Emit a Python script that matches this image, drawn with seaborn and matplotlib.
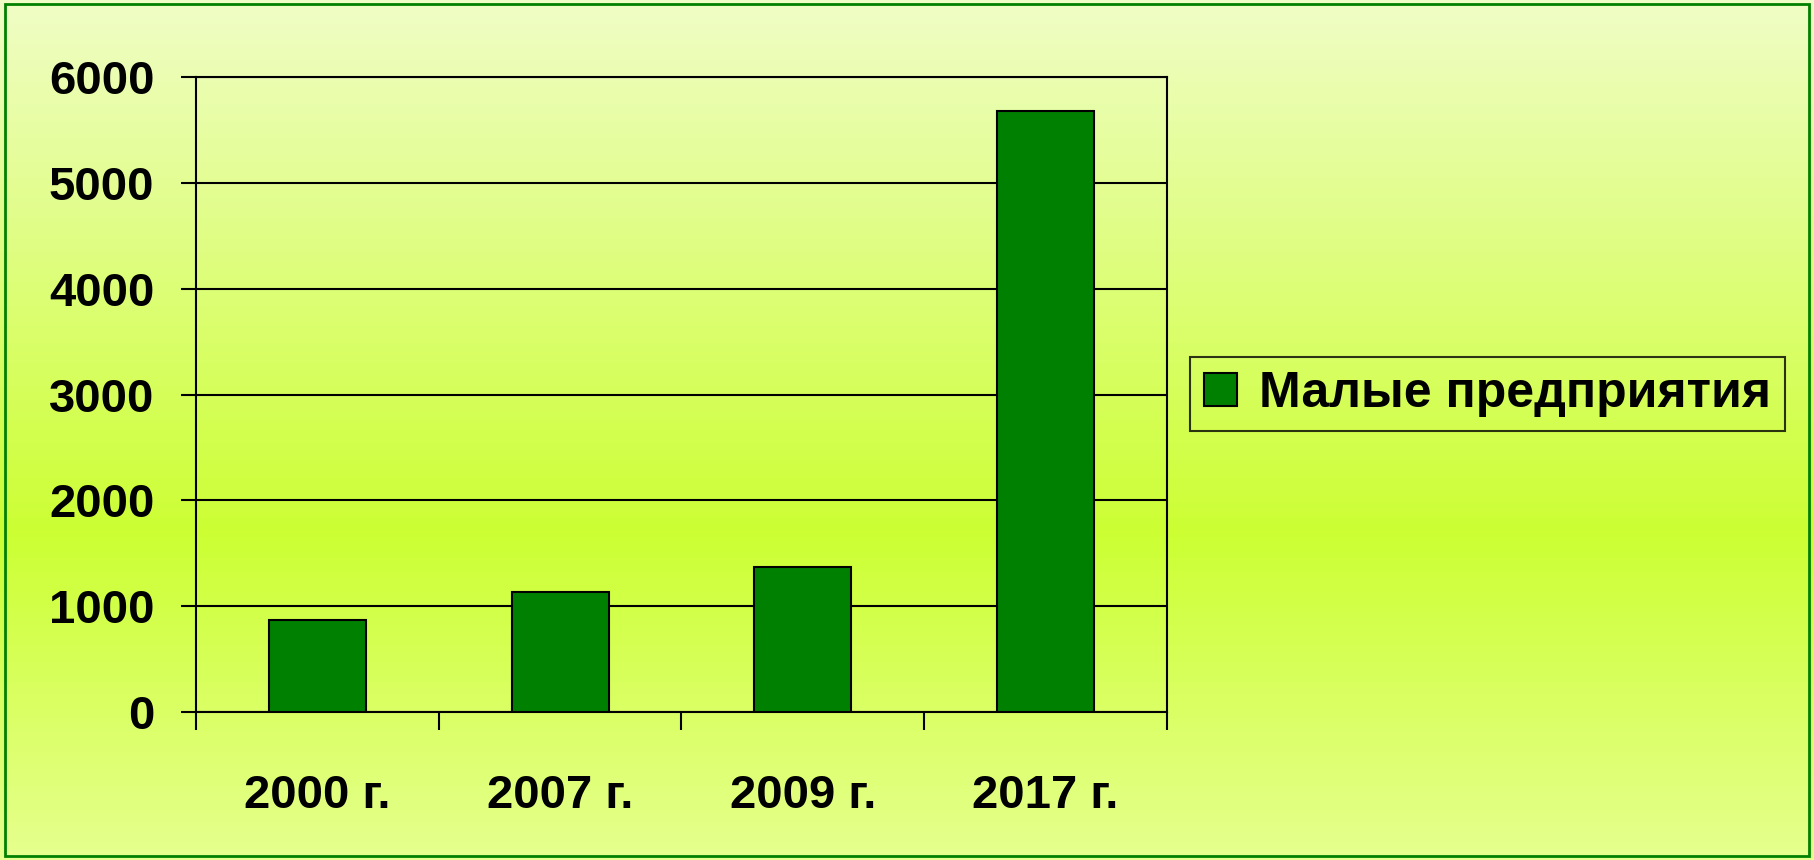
import numpy as np
import pandas as pd
import matplotlib
matplotlib.use('Agg')
import matplotlib.pyplot as plt
import seaborn as sns
from matplotlib.colors import LinearSegmentedColormap
from matplotlib.patches import Rectangle

# Data
years = ['2000 г.', '2007 г.', '2009 г.', '2017 г.']
small_firms = [868, 1132, 1368, 5680]
series_name = 'Малые предприятия'

df = pd.DataFrame({'year': years, 'value': small_firms})

plt.rcParams['font.family'] = ['Liberation Sans', 'DejaVu Sans']
plt.rcParams['font.weight'] = 'bold'

fig = plt.figure(figsize=(18.14, 8.6), dpi=100)

# Vertical gradient background
bg = fig.add_axes([0, 0, 1, 1], zorder=-10)
grad_cmap = LinearSegmentedColormap.from_list(
    'bg', [(0.0, '#f0fdc6'), (0.62, '#ccff33'), (1.0, '#e6ff8e')])
bg.imshow(np.linspace(0, 1, 256).reshape(-1, 1), aspect='auto', cmap=grad_cmap,
          extent=[0, 1, 0, 1], origin='upper')
bg.set_axis_off()
fig.patches.append(Rectangle((0.003, 0.005), 0.994, 0.99, transform=fig.transFigure,
                             fill=False, edgecolor='#008000', linewidth=2, zorder=5))

ax = fig.add_axes([196 / 1814, 1 - 712 / 860, (1167 - 196) / 1814, (712 - 77) / 860])
ax.patch.set_alpha(0)

sns.barplot(data=df, x='year', y='value', color='#008000', edgecolor='black',
            linewidth=1.5, width=0.4, saturation=1, ax=ax, zorder=3,
            label=series_name)
handles, labels = ax.get_legend_handles_labels()
if ax.get_legend() is not None:
    ax.get_legend().remove()

ax.set_ylim(0, 6000)
ax.set_yticks(range(0, 6001, 1000))
ax.set_xlim(-0.5, 3.5)
ax.yaxis.grid(True, color='black', linewidth=1.5, zorder=1)
ax.set_axisbelow(True)
ax.set_xlabel('')
ax.set_ylabel('')
for s in ax.spines.values():
    s.set_color('black')
    s.set_linewidth(1.5)

# category separators as ticks
ax.set_xticks([0, 1, 2, 3])
ax.set_xticklabels(years, fontsize=34, fontweight='bold')
ax.set_xticks([-0.5, 0.5, 1.5, 2.5, 3.5], minor=True)
ax.tick_params(axis='x', which='major', length=0, pad=45)
ax.tick_params(axis='x', which='minor', length=13, width=1.5, direction='out')
ax.tick_params(axis='y', length=11, width=1.5, pad=19, labelsize=34)
for lab in ax.get_yticklabels():
    lab.set_fontweight('bold')

leg = fig.legend(handles[:1], [series_name], loc='center left',
                 bbox_to_anchor=(1190 / 1814, 1 - 394 / 860),
                 prop={'size': 36, 'weight': 'bold'}, frameon=True, fancybox=False,
                 handlelength=0.65, handleheight=0.65, handletextpad=0.45,
                 borderpad=0.28, borderaxespad=0)
leg.get_frame().set_edgecolor('black')
leg.get_frame().set_linewidth(1.5)
leg.get_frame().set_facecolor('none')

fig.savefig('out.png', dpi=100)
